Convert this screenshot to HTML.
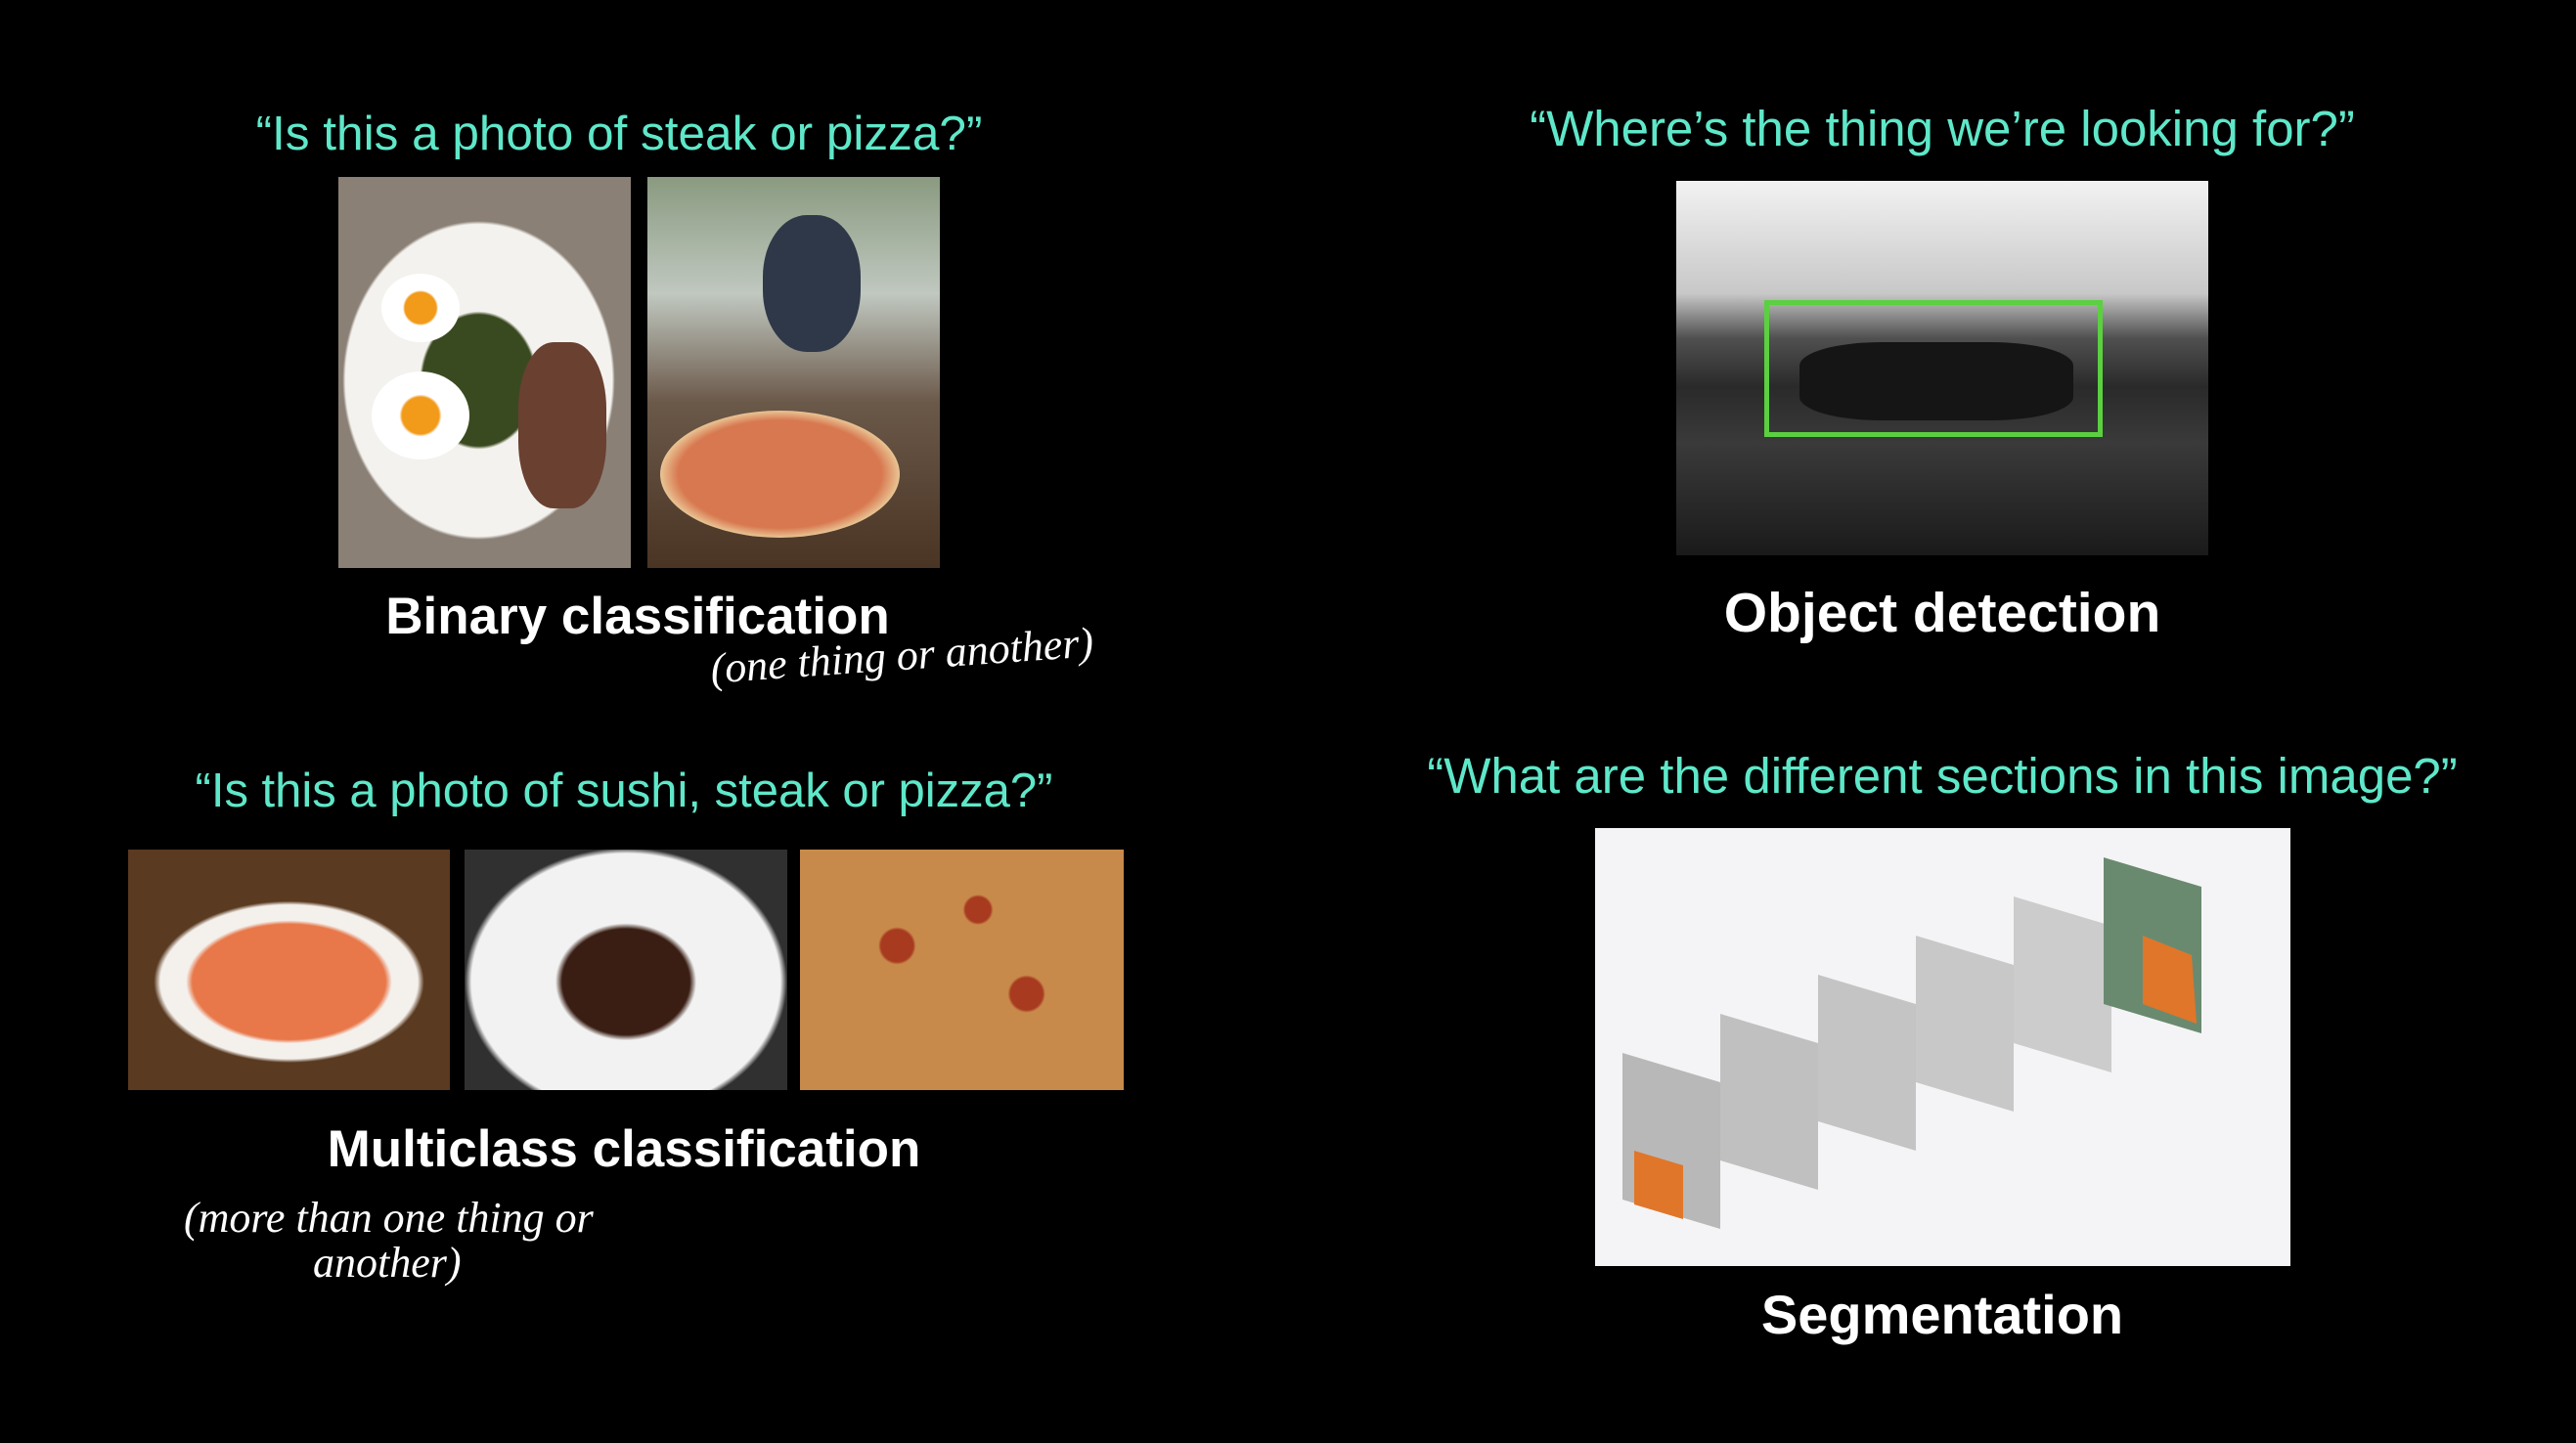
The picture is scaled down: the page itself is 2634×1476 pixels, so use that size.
<!DOCTYPE html>
<html><head><meta charset="utf-8"><style>
body{margin:0;width:2634px;height:1476px;background:#000;position:relative;overflow:hidden;font-family:"Liberation Sans",sans-serif}
.a{position:absolute}
.q{position:absolute;color:#5ee8c9;font-size:49px;white-space:nowrap;transform:translateX(-50%)}
.t{position:absolute;color:#fff;font-size:53px;font-weight:bold;white-space:nowrap;transform:translateX(-50%)}
.h{position:absolute;color:#fff;font-size:44px;font-style:italic;font-family:"Liberation Serif",serif;white-space:nowrap}
</style></head><body>
<div class="q" style="left:633px;top:108px;font-size:49.5px">“Is this a photo of steak or pizza?”</div>
<div class="a" style="left:346px;top:181px;width:299px;height:400px;background:radial-gradient(ellipse 48% 42% at 48% 52%,#3a4a20 0 40%,#f4f2ee 42% 95%,#8a8076 97%),#8a8076"></div>
<div class="a" style="left:390px;top:280px;width:80px;height:70px;border-radius:50%;background:radial-gradient(circle,#f29a1a 0 30%,#fff 34%)"></div>
<div class="a" style="left:380px;top:380px;width:100px;height:90px;border-radius:50%;background:radial-gradient(circle,#f29a1a 0 28%,#fff 32%)"></div>
<div class="a" style="left:530px;top:350px;width:90px;height:170px;border-radius:40%;background:#6a4030"></div>
<div class="a" style="left:662px;top:181px;width:299px;height:400px;background:linear-gradient(#8a9a80 0,#c0c8c0 30%,#6a5848 58%,#4a3424 100%)"></div>
<div class="a" style="left:780px;top:220px;width:100px;height:140px;border-radius:45%;background:#2e3848"></div>
<div class="a" style="left:675px;top:420px;width:245px;height:130px;border-radius:50%;background:radial-gradient(ellipse,#d87850 0 60%,#e8c090 70%,#d0d0d0 80%)"></div>
<div class="t" style="left:652px;top:600px">Binary classification</div>
<div class="h" style="left:726px;top:645px;transform:rotate(-4deg)">(one thing or another)</div>

<div class="q" style="left:638px;top:781px">“Is this a photo of sushi, steak or pizza?”</div>
<div class="a" style="left:131px;top:869px;width:329px;height:246px;background:radial-gradient(ellipse 50% 40% at 50% 55%,#e8784a 0 60%,#f4f0ec 64% 80%,#5a3a20 84%),#5a3a20"></div>
<div class="a" style="left:475px;top:869px;width:330px;height:246px;background:radial-gradient(ellipse 52% 58% at 50% 55%,#3a1e14 0 38%,#f2f2f2 42% 92%,#303030 96%),#303030"></div>
<div class="a" style="left:818px;top:869px;width:331px;height:246px;background:radial-gradient(circle at 30% 40%,#a83a20 0 6%,transparent 7%),radial-gradient(circle at 70% 60%,#a83a20 0 6%,transparent 7%),radial-gradient(circle at 55% 25%,#a83a20 0 5%,transparent 6%),#c88a4a"></div>
<div class="t" style="left:638px;top:1145px">Multiclass classification</div>
<div class="h" style="left:188px;top:1220px">(more than one thing or</div>
<div class="h" style="left:320px;top:1266px">another)</div>

<div class="q" style="left:1986px;top:102px;font-size:51px">“Where’s the thing we’re looking for?”</div>
<div class="a" style="left:1714px;top:185px;width:544px;height:383px;background:linear-gradient(#f2f2f2 0,#c8c8c8 30%,#505050 42%,#2a2a2a 55%,#3a3a3a 70%,#1a1a1a 100%)"></div>
<div class="a" style="left:1840px;top:350px;width:280px;height:80px;border-radius:30%;background:#151515"></div>
<div class="a" style="left:1804px;top:307px;width:346px;height:140px;border:5px solid #5bd040;box-sizing:border-box"></div>
<div class="t" style="left:1986px;top:594px;font-size:57px">Object detection</div>

<div class="q" style="left:1986px;top:764px;font-size:51px">“What are the different sections in this image?”</div>
<div class="a" style="left:1631px;top:847px;width:711px;height:448px;background:#f4f4f6;overflow:hidden">
<svg width="711" height="448">
<polygon points="28,230 128,260 128,410 28,380" fill="#b8b8b8"/>
<polygon points="128,190 228,220 228,370 128,340" fill="#c0c0c0"/>
<polygon points="228,150 328,180 328,330 228,300" fill="#c4c4c4"/>
<polygon points="328,110 428,140 428,290 328,260" fill="#c8c8c8"/>
<polygon points="428,70 528,100 528,250 428,220" fill="#cccccc"/>
<polygon points="520,30 620,60 620,210 520,180" fill="#6a8a70"/>
<polygon points="560,110 610,130 615,200 560,180" fill="#e0762a"/>
<polygon points="40,330 90,345 90,400 40,385" fill="#e0762a"/>
</svg></div>
<div class="t" style="left:1986px;top:1312px;font-size:56px">Segmentation</div>
</body></html>
